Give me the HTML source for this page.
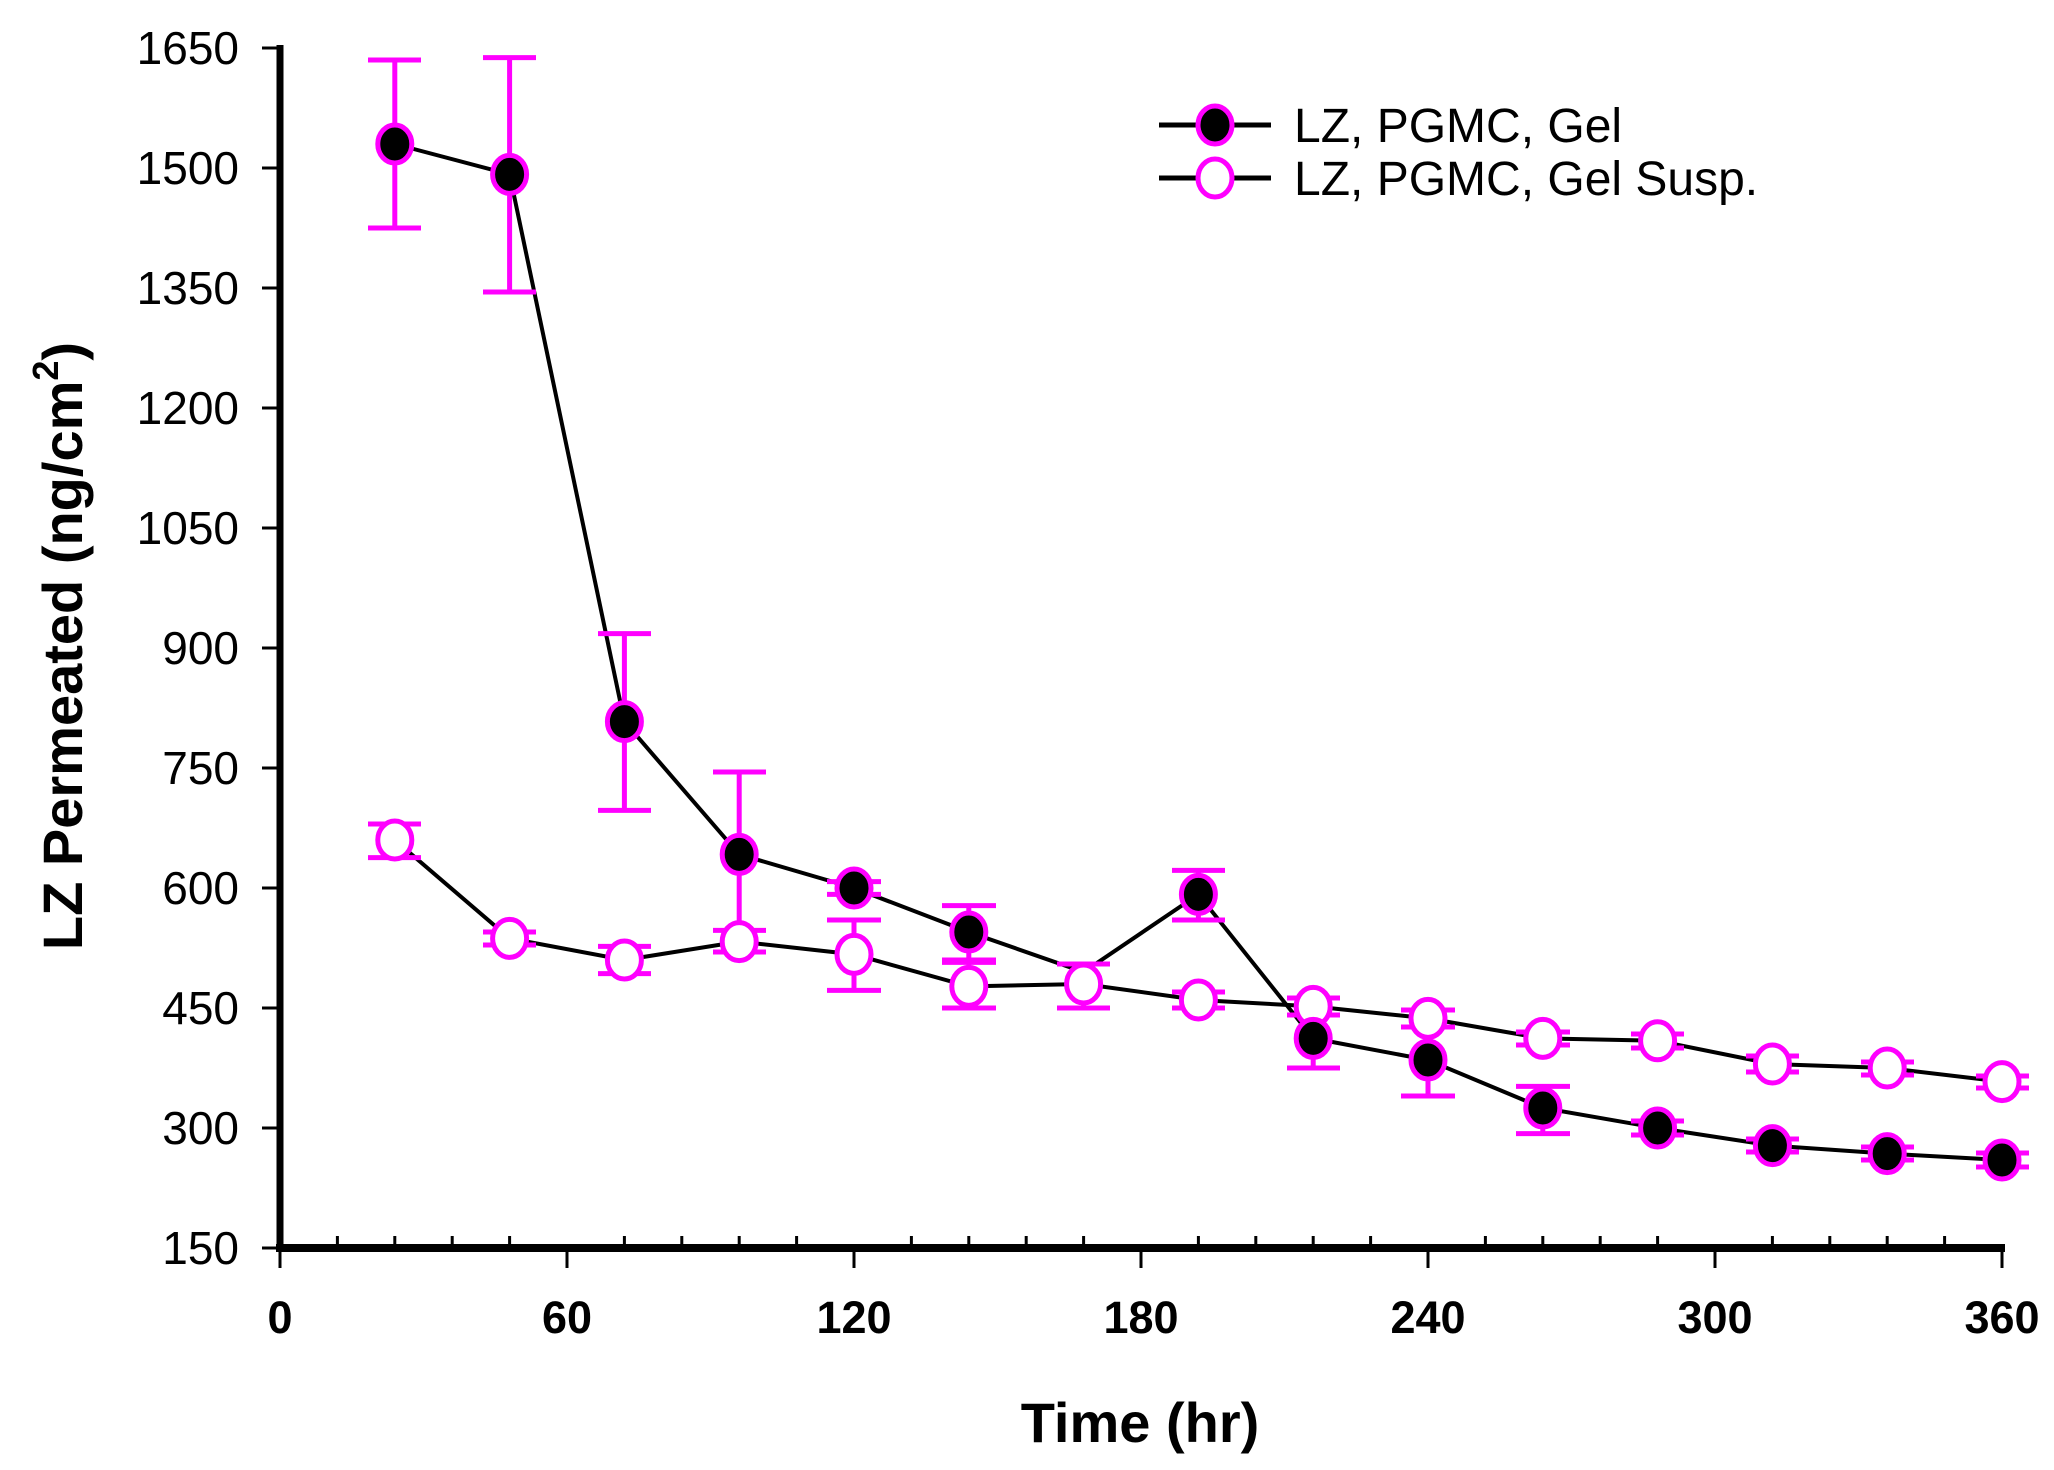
<!DOCTYPE html>
<html><head><meta charset="utf-8"><style>html,body{margin:0;padding:0;background:#fff}svg{display:block}</style></head>
<body>
<svg width="2054" height="1470" viewBox="0 0 2054 1470" xmlns="http://www.w3.org/2000/svg" font-family="Liberation Sans, Arial, sans-serif">
<rect width="2054" height="1470" fill="#fff"/>
<g stroke="#000" fill="none">
<line x1="280" y1="45" x2="280" y2="1252" stroke-width="7"/>
<line x1="276" y1="1248" x2="2005" y2="1248" stroke-width="8"/>
<g stroke-width="3">
<line x1="262" y1="48" x2="280" y2="48"/><line x1="262" y1="168" x2="280" y2="168"/><line x1="262" y1="288" x2="280" y2="288"/><line x1="262" y1="408" x2="280" y2="408"/><line x1="262" y1="528" x2="280" y2="528"/><line x1="262" y1="648" x2="280" y2="648"/><line x1="262" y1="768" x2="280" y2="768"/><line x1="262" y1="888" x2="280" y2="888"/><line x1="262" y1="1008" x2="280" y2="1008"/><line x1="262" y1="1128" x2="280" y2="1128"/><line x1="262" y1="1248" x2="280" y2="1248"/>
<line x1="280" y1="1248" x2="280" y2="1268"/><line x1="567" y1="1248" x2="567" y2="1268"/><line x1="854" y1="1248" x2="854" y2="1268"/><line x1="1141" y1="1248" x2="1141" y2="1268"/><line x1="1428" y1="1248" x2="1428" y2="1268"/><line x1="1715" y1="1248" x2="1715" y2="1268"/><line x1="2002" y1="1248" x2="2002" y2="1268"/>
<line x1="337.4" y1="1236" x2="337.4" y2="1248"/><line x1="394.8" y1="1236" x2="394.8" y2="1248"/><line x1="452.2" y1="1236" x2="452.2" y2="1248"/><line x1="509.6" y1="1236" x2="509.6" y2="1248"/>
<line x1="624.4" y1="1236" x2="624.4" y2="1248"/><line x1="681.8" y1="1236" x2="681.8" y2="1248"/><line x1="739.2" y1="1236" x2="739.2" y2="1248"/><line x1="796.6" y1="1236" x2="796.6" y2="1248"/>
<line x1="911.4" y1="1236" x2="911.4" y2="1248"/><line x1="968.8" y1="1236" x2="968.8" y2="1248"/><line x1="1026.2" y1="1236" x2="1026.2" y2="1248"/><line x1="1083.6" y1="1236" x2="1083.6" y2="1248"/>
<line x1="1198.4" y1="1236" x2="1198.4" y2="1248"/><line x1="1255.8" y1="1236" x2="1255.8" y2="1248"/><line x1="1313.2" y1="1236" x2="1313.2" y2="1248"/><line x1="1370.6" y1="1236" x2="1370.6" y2="1248"/>
<line x1="1485.4" y1="1236" x2="1485.4" y2="1248"/><line x1="1542.8" y1="1236" x2="1542.8" y2="1248"/><line x1="1600.2" y1="1236" x2="1600.2" y2="1248"/><line x1="1657.6" y1="1236" x2="1657.6" y2="1248"/>
<line x1="1772.4" y1="1236" x2="1772.4" y2="1248"/><line x1="1829.8" y1="1236" x2="1829.8" y2="1248"/><line x1="1887.2" y1="1236" x2="1887.2" y2="1248"/><line x1="1944.6" y1="1236" x2="1944.6" y2="1248"/>
</g></g>
<g font-size="46" text-anchor="end" fill="#000">
<text x="239" y="64">1650</text><text x="239" y="184">1500</text><text x="239" y="304">1350</text><text x="239" y="424">1200</text><text x="239" y="544">1050</text><text x="239" y="664">900</text><text x="239" y="784">750</text><text x="239" y="904">600</text><text x="239" y="1024">450</text><text x="239" y="1144">300</text><text x="239" y="1264">150</text>
</g>
<g font-size="45" font-weight="bold" text-anchor="middle" fill="#000">
<text x="280" y="1333">0</text><text x="567" y="1333">60</text><text x="854" y="1333">120</text><text x="1141" y="1333">180</text><text x="1428" y="1333">240</text><text x="1715" y="1333">300</text><text x="2002" y="1333">360</text>
</g>
<text x="1140" y="1442" font-size="56" font-weight="bold" text-anchor="middle">Time (hr)</text>
<text transform="translate(82,646) rotate(-90)" font-size="56" font-weight="bold" text-anchor="middle">LZ Permeated (ng/cm<tspan font-size="36" dy="-24">2</tspan><tspan dy="24">)</tspan></text>
<polyline fill="none" stroke="#000" stroke-width="4" points="394.8,840 509.6,938.4 624.4,960 739.2,941.6 854,954.4 968.8,986.4 1083.6,984 1198.4,1000 1313.2,1006.4 1428,1018.4 1542.8,1038.4 1657.6,1040.8 1772.4,1064 1887.2,1068 2002,1081.6"/>
<polyline fill="none" stroke="#000" stroke-width="4" points="394.8,144 509.6,174.4 624.4,721.6 739.2,854.4 854,888 968.8,932 1083.6,972 1198.4,894.4 1313.2,1038.4 1428,1060 1542.8,1108 1657.6,1128 1772.4,1145.6 1887.2,1153.6 2002,1160"/>
<g stroke="#f0f" stroke-width="5" fill="none">
<path d="M394.8,824V857.6M368,824H421M368,857.6H421"/>
<path d="M509.6,932V945M483,932H536M483,945H536"/>
<path d="M624.4,946.4V973.6M598,946.4H651M598,973.6H651"/>
<path d="M739.2,930.4V952M713,930.4H766M713,952H766"/>
<path d="M854,920V990.4M827,920H881M827,990.4H881"/>
<path d="M968.8,962.4V1008M942,962.4H996M942,1008H996"/>
<path d="M1083.6,964V1008M1057,964H1110M1057,1008H1110"/>
<path d="M1198.4,992V1008M1172,992H1225M1172,1008H1225"/>
<path d="M1313.2,998V1015M1287,998H1340M1287,1015H1340"/>
<path d="M1428,1010V1027M1401,1010H1455M1401,1027H1455"/>
<path d="M1542.8,1032V1045M1516,1032H1570M1516,1045H1570"/>
<path d="M1657.6,1034V1048M1631,1034H1684M1631,1048H1684"/>
<path d="M1772.4,1056V1072M1746,1056H1799M1746,1072H1799"/>
<path d="M1887.2,1062V1075M1861,1062H1914M1861,1075H1914"/>
<path d="M2002,1076V1088M1976,1076H2029M1976,1088H2029"/>
<path d="M394.8,60V228M368,60H421M368,228H421"/>
<path d="M509.6,57.6V292M483,57.6H536M483,292H536"/>
<path d="M624.4,633.6V810.4M598,633.6H651M598,810.4H651"/>
<path d="M739.2,772V936M713,772H766"/>
<path d="M854,881.6V894.4M827,881.6H881M827,894.4H881"/>
<path d="M968.8,905.6V960M942,905.6H996M942,960H996"/>
<path d="M1083.6,964V984M1057,964H1110"/>
<path d="M1198.4,870.4V920M1172,870.4H1225M1172,920H1225"/>
<path d="M1313.2,1038V1068M1287,1068H1340"/>
<path d="M1428,1060V1096M1401,1096H1455"/>
<path d="M1542.8,1086.4V1133.6M1516,1086.4H1570M1516,1133.6H1570"/>
<path d="M1657.6,1121V1135M1631,1121H1684M1631,1135H1684"/>
<path d="M1772.4,1139V1152M1746,1139H1799M1746,1152H1799"/>
<path d="M1887.2,1147V1160M1861,1147H1914M1861,1160H1914"/>
<path d="M2002,1153V1167M1976,1153H2029M1976,1167H2029"/>
</g>
<g fill="#fff" stroke="#f0f" stroke-width="5">
<ellipse cx="394.8" cy="840" rx="17" ry="19"/><ellipse cx="509.6" cy="938.4" rx="17" ry="19"/><ellipse cx="624.4" cy="960" rx="17" ry="19"/><ellipse cx="739.2" cy="941.6" rx="17" ry="19"/><ellipse cx="854" cy="954.4" rx="17" ry="19"/><ellipse cx="968.8" cy="986.4" rx="17" ry="19"/><ellipse cx="1083.6" cy="984" rx="17" ry="19"/><ellipse cx="1198.4" cy="1000" rx="17" ry="19"/><ellipse cx="1313.2" cy="1006.4" rx="17" ry="19"/><ellipse cx="1428" cy="1018.4" rx="17" ry="19"/><ellipse cx="1542.8" cy="1038.4" rx="17" ry="19"/><ellipse cx="1657.6" cy="1040.8" rx="17" ry="19"/><ellipse cx="1772.4" cy="1064" rx="17" ry="19"/><ellipse cx="1887.2" cy="1068" rx="17" ry="19"/><ellipse cx="2002" cy="1081.6" rx="17" ry="19"/>
</g>
<g fill="#000" stroke="#f0f" stroke-width="5">
<ellipse cx="394.8" cy="144" rx="17" ry="19"/><ellipse cx="509.6" cy="174.4" rx="17" ry="19"/><ellipse cx="624.4" cy="721.6" rx="17" ry="19"/><ellipse cx="739.2" cy="854.4" rx="17" ry="19"/><ellipse cx="854" cy="888" rx="17" ry="19"/><ellipse cx="968.8" cy="932" rx="17" ry="19"/><ellipse cx="1198.4" cy="894.4" rx="17" ry="19"/><ellipse cx="1313.2" cy="1038.4" rx="17" ry="19"/><ellipse cx="1428" cy="1060" rx="17" ry="19"/><ellipse cx="1542.8" cy="1108" rx="17" ry="19"/><ellipse cx="1657.6" cy="1128" rx="17" ry="19"/><ellipse cx="1772.4" cy="1145.6" rx="17" ry="19"/><ellipse cx="1887.2" cy="1153.6" rx="17" ry="19"/><ellipse cx="2002" cy="1160" rx="17" ry="19"/>
</g>
<g stroke="#000" stroke-width="5"><line x1="1159" y1="125" x2="1271" y2="125"/><line x1="1159" y1="178" x2="1271" y2="178"/></g>
<ellipse cx="1215" cy="125" rx="17" ry="19" fill="#000" stroke="#f0f" stroke-width="5"/>
<ellipse cx="1215" cy="178" rx="17" ry="19" fill="#fff" stroke="#f0f" stroke-width="5"/>
<g font-size="48" fill="#000"><text x="1294" y="142">LZ, PGMC, Gel</text><text x="1294" y="195">LZ, PGMC, Gel Susp.</text></g>
</svg>
</body></html>
